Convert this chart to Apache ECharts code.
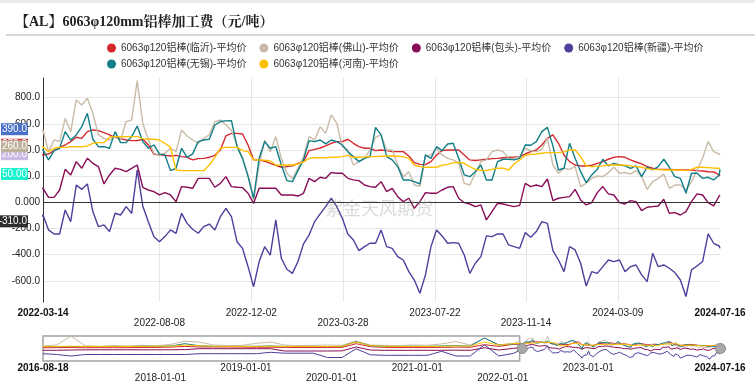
<!DOCTYPE html>
<html><head><meta charset="utf-8">
<script src="https://cdn.jsdelivr.net/npm/echarts@6/dist/echarts.min.js"></script>
<style>html,body{margin:0;padding:0;background:#fff}#c{width:755px;height:382px}</style>
</head><body><div id="c"></div>
<script>
const titleText = '【AL】6063φ120mm铝棒加工费（元/吨）';
const seriesNames = ['6063φ120铝棒(临沂)-平均价','6063φ120铝棒(佛山)-平均价','6063φ120铝棒(包头)-平均价','6063φ120铝棒(新疆)-平均价','6063φ120铝棒(无锡)-平均价','6063φ120铝棒(河南)-平均价'];
const seriesColors = ['#d42a2f','#c9bba7','#8a0c56','#4f3e9c','#0f7e87','#ffc000'];

// history (shown only in the overview strip)
const histDates = ['2016-08-18','2016-10-15','2016-12-15','2017-02-15','2017-04-15','2017-06-15','2017-08-15','2017-10-15','2017-12-15','2018-02-15','2018-04-15','2018-06-15','2018-08-15','2018-10-15','2018-12-15','2019-02-15','2019-04-15','2019-06-15','2019-08-15','2019-10-15','2019-12-15','2020-02-15','2020-04-15','2020-06-15','2020-08-15','2020-10-15','2020-12-15','2021-02-15','2021-04-15','2021-06-15','2021-08-15','2021-10-15','2021-12-15','2022-02-15'];
const linyiHist  = [108,110,120,108,110,108,110,120,130,150,200,160,158,158,150,140,140,130,120,120,120,130,396,180,130,120,120,120,130,150,140,324,200,350];
const foshanHist = [230,300,940,250,200,260,230,280,240,350,576,520,300,260,280,420,518,300,260,280,300,280,590,300,280,260,300,280,380,550,300,806,320,400];
const baotouHist = [-80,-80,-60,-44,-44,-44,-44,-44,-44,-40,-30,36,36,36,36,36,36,-130,-130,-130,-130,-120,158,-60,-80,-80,-80,-80,-80,-70,-80,100,-60,60];
const xinjiangHist = [-324,-380,-490,-382,-382,-382,-382,-382,-382,-382,-382,-324,-324,-324,-324,-324,-223,-288,-288,-288,-598,-598,28,-404,-440,-440,-440,-440,-151,-490,-490,316,-490,-300];
const wuxiHist   = [194,180,200,194,190,200,194,210,200,230,396,250,200,194,200,210,230,200,190,200,190,200,542,250,200,194,210,200,230,260,220,806,300,380];
const henanHist  = [200,200,210,200,200,200,194,200,210,220,300,250,210,200,200,200,210,200,200,200,200,210,518,260,210,200,200,200,210,230,220,518,300,400];

// displayed window
const dates = ['2022-03-14','2022-03-21','2022-03-28','2022-04-04','2022-04-11','2022-04-18','2022-04-25','2022-05-02','2022-05-09','2022-05-16','2022-05-23','2022-05-30','2022-06-06','2022-06-13','2022-06-20','2022-06-27','2022-07-04','2022-07-11','2022-07-18','2022-07-25','2022-08-01','2022-08-08','2022-08-15','2022-08-22','2022-08-29','2022-09-05','2022-09-12','2022-09-19','2022-09-26','2022-10-03','2022-10-10','2022-10-17','2022-10-24','2022-10-31','2022-11-07','2022-11-14','2022-11-21','2022-11-28','2022-12-05','2022-12-12','2022-12-19','2022-12-26',
'2023-01-02','2023-01-09','2023-01-16','2023-01-23','2023-01-30','2023-02-06','2023-02-13','2023-02-20','2023-02-27','2023-03-06','2023-03-13','2023-03-20','2023-03-27','2023-04-03','2023-04-10','2023-04-17','2023-04-24','2023-05-01','2023-05-08','2023-05-15','2023-05-22','2023-05-29','2023-06-05','2023-06-12','2023-06-19','2023-06-26','2023-07-03','2023-07-10','2023-07-17','2023-07-24','2023-07-31','2023-08-07','2023-08-14','2023-08-21','2023-08-28','2023-09-04','2023-09-11','2023-09-18','2023-09-25','2023-10-02','2023-10-09','2023-10-16','2023-10-23','2023-10-30','2023-11-06','2023-11-13','2023-11-20','2023-11-27','2023-12-04','2023-12-11','2023-12-18','2023-12-25',
'2024-01-01','2024-01-08','2024-01-15','2024-01-22','2024-01-29','2024-02-05','2024-02-12','2024-02-19','2024-02-26','2024-03-04','2024-03-11','2024-03-18','2024-03-25','2024-04-01','2024-04-08','2024-04-15','2024-04-22','2024-04-29','2024-05-06','2024-05-13','2024-05-20','2024-05-27','2024-06-03','2024-06-10','2024-06-17','2024-06-24','2024-07-01','2024-07-08','2024-07-15','2024-07-16'];

const linyi = [362,369,395,418,438,464,497,489,540,553,548,532,515,497,487,476,471,471,482,438,369,362,359,354,359,349,344,324,334,336,344,359,400,507,527,527,522,438,324,324,314,298,283,
268,273,278,298,311,395,405,415,431,451,464,464,482,451,425,413,413,395,400,395,387,387,387,354,303,290,288,311,362,395,400,400,400,362,324,319,324,329,334,336,
341,344,344,349,369,387,400,438,489,515,451,362,311,285,278,278,283,298,311,329,344,349,344,324,308,293,273,260,252,252,252,250,247,247,247,242,239,234,232,209,201];
const foshan = [553,387,476,464,642,540,782,744,795,680,515,489,476,502,476,617,629,930,604,476,375,354,375,413,387,553,507,476,451,489,515,617,629,591,548,438,336,209,18,285,476,387,502,
336,222,183,260,349,502,476,578,527,668,604,425,400,285,311,336,400,497,515,400,400,285,196,234,132,120,349,362,413,362,336,324,298,145,132,222,311,324,387,400,
387,336,336,349,413,395,387,405,489,285,222,260,252,273,120,145,183,201,196,227,268,222,227,216,242,196,99,158,183,216,107,132,132,94,158,247,336,464,387,369,362];
const baotou = [107,38,38,94,252,209,311,260,336,298,273,140,209,260,252,234,260,285,115,94,81,56,74,56,5,120,115,107,183,183,183,115,145,196,120,115,112,69,-8,107,107,107,107,
56,56,56,48,69,183,158,191,183,227,222,222,183,171,166,132,120,115,158,81,107,43,5,31,-46,5,74,69,69,94,115,120,31,-3,-13,-33,-20,-135,-71,-8,
-13,-23,-33,-23,145,120,132,120,178,13,31,38,43,99,18,-20,-3,74,120,64,56,-3,-13,13,5,-64,-38,-33,-28,23,-84,-79,-97,-71,5,64,56,-3,-28,48,56];
const xinjiang = [-97,-211,-242,-242,-59,-148,132,99,140,-71,-186,-173,-224,-84,-97,-33,-84,247,-28,-148,-262,-301,-262,-211,-237,-84,-161,-206,-237,-186,-166,-211,-110,-46,-110,-301,-352,-492,-645,-453,-339,-403,-135,
-428,-512,-543,-453,-318,-250,-148,-89,-33,31,-33,-122,-242,-288,-369,-339,-313,-313,-211,-339,-352,-415,-441,-530,-594,-695,-555,-339,-211,-257,-313,-308,-313,-403,-543,-466,-415,-257,-262,-242,
-242,-326,-339,-352,-232,-267,-224,-148,-161,-369,-441,-530,-339,-364,-466,-640,-530,-543,-492,-441,-453,-441,-530,-492,-479,-555,-606,-390,-492,-479,-504,-537,-594,-720,-517,-487,-453,-242,-313,-334,-352];
const wuxi = [400,324,395,413,540,476,515,578,680,482,425,425,413,540,456,456,502,583,464,413,438,370,362,242,260,413,344,370,464,476,482,591,617,622,624,425,336,196,31,336,464,413,425,
285,166,158,242,324,471,464,476,446,476,464,438,387,349,311,336,349,573,515,349,324,273,171,171,158,140,362,336,425,395,446,451,336,209,196,234,285,171,171,311,
329,329,324,336,438,436,464,540,573,431,247,260,451,336,234,150,209,252,329,278,298,285,278,260,278,196,268,247,273,329,268,196,183,69,222,222,183,191,171,209,252];
const henan = [425,387,413,420,420,425,425,425,431,451,456,456,497,502,502,502,502,502,487,482,482,476,451,420,247,242,242,242,242,242,285,344,413,420,420,420,395,387,324,324,321,316,285,
283,285,285,293,308,336,341,341,341,344,344,349,359,344,344,346,349,349,352,354,354,352,349,336,285,273,268,268,268,283,290,301,306,298,273,252,245,242,252,260,
260,247,293,324,359,367,369,375,380,380,380,385,400,400,349,278,273,275,278,285,285,285,283,278,273,268,257,252,250,247,247,247,247,242,252,268,268,265,262,260,260];

const yTicks = [-600,-400,-200,0,200,400,600,800];
const mainTickLabels = ['2022-03-14','2022-08-08','2022-12-02','2023-03-28','2023-07-22','2023-11-14','2024-03-09','2024-07-16'];
const overviewTickLabels = ['2016-08-18','2018-01-01','2019-01-01','2020-01-01','2021-01-01','2022-01-01','2023-01-01','2024-07-16'];
const badgeValues = [390, 200, 272, 260, 50, -310];
const badgeColors = ['#4a70c8','#cbb8e3','#d33a3a','#bfb29c','#19f2cf','#2e2e2e'];

const FONT = "'Liberation Sans', Arial, 'Noto Sans CJK SC', sans-serif";
const ms = s => Date.parse(s + 'T00:00:00Z');
const fmt = v => new Date(v).toISOString().slice(0, 10);
const histAll = [linyiHist, foshanHist, baotouHist, xinjiangHist, wuxiHist, henanHist];
const recentAll = [linyi, foshan, baotou, xinjiang, wuxi, henan];
const fullData = recentAll.map((arr, k) =>
  histDates.map((d, i) => [ms(d), histAll[k][i]]).concat(dates.map((d, i) => [ms(d), arr[i]])));

function labelFmt(ticks) {
  return function (v) {
    const s = fmt(v), i = ticks.indexOf(s);
    if (i === 0 || i === ticks.length - 1) return '{b|' + s + '}';
    return (i % 2 === 1 ? '{r2|' : '{r1|') + s + '}';
  };
}
const rich = {
  b: { fontWeight: 'bold', fontSize: 10, color: '#111', lineHeight: 12, fontFamily: FONT },
  r1: { fontSize: 10, color: '#222', lineHeight: 12, fontFamily: FONT },
  r2: { fontSize: 10, color: '#222', lineHeight: 32, fontFamily: FONT }
};

const series = [];
fullData.forEach((data, k) => {
  const s = {
    name: seriesNames[k], type: 'line', xAxisIndex: 0, yAxisIndex: 0, data: data,
    showSymbol: false, symbol: 'none', clip: true,
    lineStyle: { width: 1.4, color: seriesColors[k] }, itemStyle: { color: seriesColors[k] }
  };
  if (k === 0) {
    s.markLine = { silent: true, symbol: 'none', label: { show: false },
      lineStyle: { color: '#333', width: 1, type: 'solid' }, data: [{ yAxis: 0 }] };
  }
  series.push(s);
});
// overview strip lines
fullData.forEach((data, k) => {
  series.push({
    name: seriesNames[k], type: 'line', xAxisIndex: 1, yAxisIndex: 2, data: data,
    showSymbol: false, symbol: 'none', silent: true,
    lineStyle: { width: 1, color: seriesColors[k] }, itemStyle: { color: seriesColors[k] }
  });
});
// fade over the unselected part of the overview
series.push({
  name: 'fade', type: 'line', xAxisIndex: 1, yAxisIndex: 2, data: [], z: 5, silent: true,
  markArea: { silent: true,
    itemStyle: { color: 'rgba(255,255,255,0.62)', borderColor: '#a3a3a3', borderWidth: 1.5 },
    data: [[{ xAxis: ms(histDates[0]) }, { xAxis: ms(dates[0]) }]] }
});
// last-value badges on the left
series.push({
  name: 'badges', type: 'line', xAxisIndex: 0, yAxisIndex: 1, data: [], z: 6, silent: true, clip: false,
  markLine: { silent: true, symbol: 'none', lineStyle: { color: 'rgba(0,0,0,0)', width: 1, opacity: 1 },
    data: badgeValues.map((v, i) => ({ yAxis: v,
      lineStyle: { color: 'rgba(0,0,0,0)', width: 1, opacity: 1 },
      label: { show: true, position: 'start', distance: 15, formatter: () => v.toPrecision(4), opacity: 1,
        color: '#fff', fontSize: 10, lineHeight: 11, fontFamily: FONT, backgroundColor: badgeColors[i], padding: [1, 1, 0, 1] } })) }
});

const chart = echarts.init(document.getElementById('c'), null, { renderer: 'canvas' });
chart.setOption({
  animation: false,
  backgroundColor: '#fff',
  title: { text: titleText, left: 15, top: 15, padding: 0,
    textStyle: { fontSize: 14, fontWeight: 'bold', color: '#222',
      fontFamily: "'Liberation Serif', 'Noto Serif CJK SC', 'Noto Sans CJK SC', serif" } },
  legend: [
    { data: seriesNames.slice(0, 4), left: 107, top: 43, padding: 0, itemWidth: 9, itemHeight: 9, itemGap: 13, icon: 'circle',
      textStyle: { fontSize: 10, color: '#333', fontFamily: FONT } },
    { data: seriesNames.slice(4), left: 107, top: 59, padding: 0, itemWidth: 9, itemHeight: 9, itemGap: 13, icon: 'circle',
      textStyle: { fontSize: 10, color: '#333', fontFamily: FONT } }
  ],
  grid: [
    { left: 43, right: 35, top: 78, bottom: 80, outerBoundsMode: 'none' },
    { left: 43, right: 35, top: 336, height: 25, outerBoundsMode: 'none' }
  ],
  xAxis: [
    { type: 'value', gridIndex: 0, scale: true, min: 'dataMin', max: 'dataMax', axisLine: { show: false, onZero: false },
      axisTick: { show: false, customValues: mainTickLabels.slice(1, -1).map(ms) },
      splitLine: { show: true, lineStyle: { color: '#e6e6e6' } },
      axisLabel: { customValues: mainTickLabels.map(ms), formatter: labelFmt(mainTickLabels), rich: rich, margin: 5 } },
    { type: 'value', gridIndex: 1, scale: true, min: ms(overviewTickLabels[0]), max: ms(overviewTickLabels[overviewTickLabels.length - 1]),
      axisLine: { show: false, onZero: false },
      axisTick: { show: false, customValues: overviewTickLabels.slice(1, -1).map(ms) },
      splitLine: { show: true, lineStyle: { color: '#ececec' } },
      axisLabel: { customValues: overviewTickLabels.map(ms), formatter: labelFmt(overviewTickLabels), rich: rich, margin: 1 } }
  ],
  yAxis: [
    { type: 'value', gridIndex: 0, min: -762, max: 950,
      axisLine: { show: true, onZero: false, lineStyle: { color: '#333', width: 1 } },
      axisTick: { show: false, customValues: yTicks },
      splitLine: { show: true, lineStyle: { color: '#e6e6e6' } },
      axisLabel: { customValues: yTicks, formatter: v => Number(v).toPrecision(4), fontSize: 10, color: '#222', margin: 3, fontFamily: FONT } },
    { type: 'value', gridIndex: 0, min: -923, max: 779, show: false, splitLine: { show: false } },
    { type: 'value', gridIndex: 1, min: -850, max: 950, show: false, splitLine: { show: false } }
  ],
  dataZoom: [{
    type: 'slider', xAxisIndex: 0, filterMode: 'none',
    startValue: ms(dates[0]), endValue: ms(dates[dates.length - 1]),
    left: 43, right: 35, top: 336, height: 25,
    showDataShadow: false, showDetail: false, brushSelect: false, moveHandleSize: 0,
    backgroundColor: 'rgba(0,0,0,0)', borderColor: 'rgba(0,0,0,0)', fillerColor: 'rgba(0,0,0,0)',
    handleIcon: 'circle', handleSize: 10,
    handleStyle: { color: '#a8a8a8', borderColor: '#8a8a8a', borderWidth: 1 }
  }],
  graphic: [
    { type: 'rect', shape: { x: 0, y: 0, width: 755, height: 3 }, style: { fill: '#ebebeb' }, silent: true },
    { type: 'line', shape: { x1: 6, y1: 35, x2: 755, y2: 35 }, style: { stroke: '#c8c8c8', lineWidth: 1.5 }, silent: true },
    { type: 'text', left: 325, top: 199, z: 100, silent: true,
      style: { text: '紫金天风期货', fontSize: 18, fill: 'rgba(150,150,150,0.35)', fontFamily: "'Noto Sans CJK SC', sans-serif" } }
  ],
  series: series
});
</script></body></html>
